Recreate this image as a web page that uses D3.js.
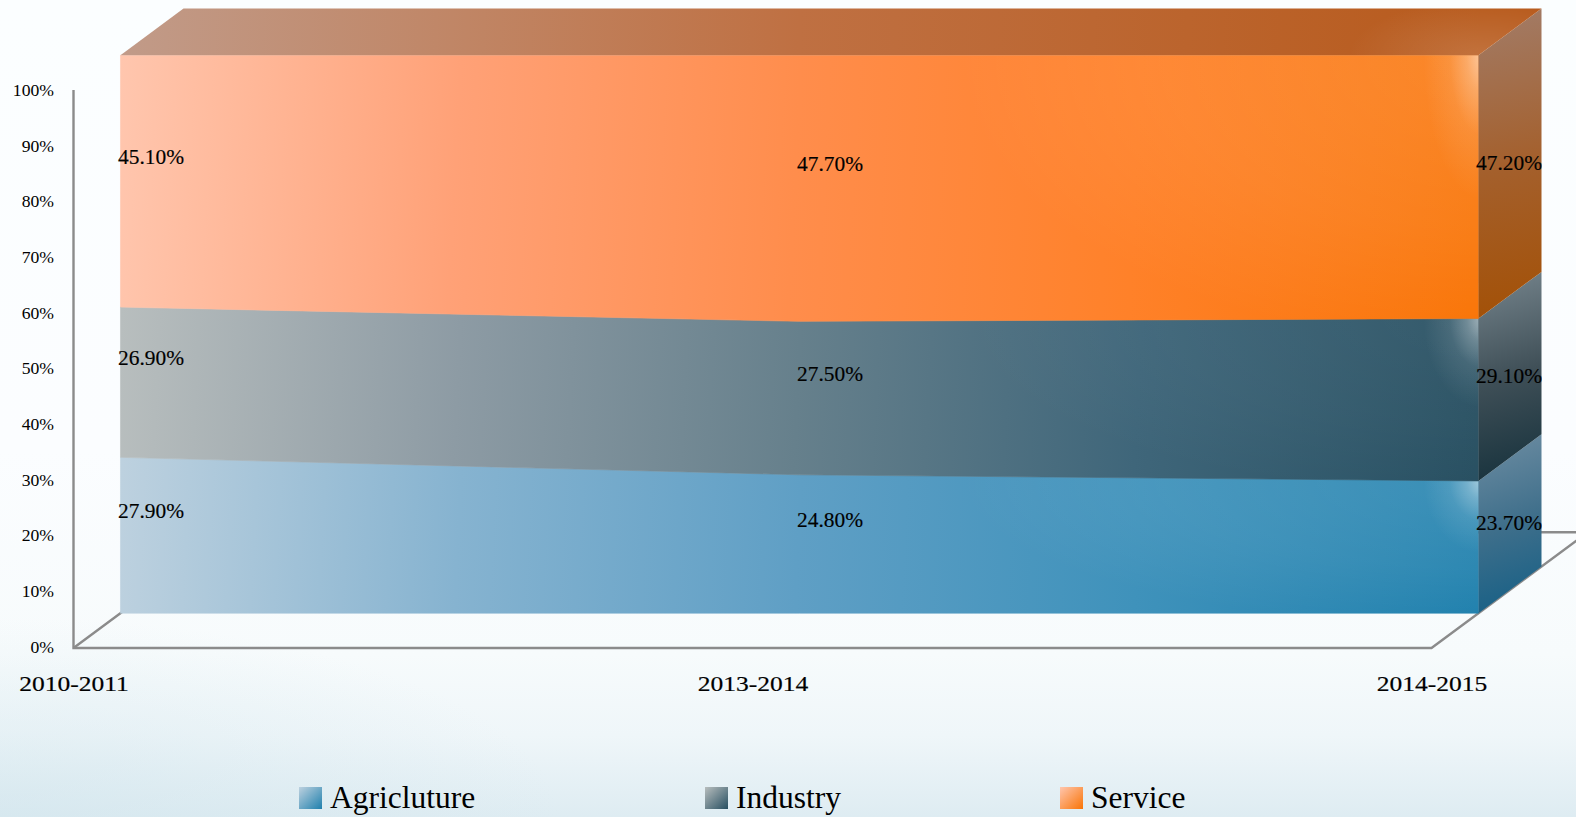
<!DOCTYPE html>
<html>
<head>
<meta charset="utf-8">
<script src="https://cdnjs.cloudflare.com/ajax/libs/d3/7.9.0/d3.min.js"></script>
<style>
html,body{margin:0;padding:0;overflow:hidden;background:#fff}
svg{display:block}
text{font-family:"Liberation Serif",serif;fill:#000}
</style>
</head>
<body>
<svg id="chart" width="1576" height="817"></svg>
<script>
// Share of GDP by sector
const categories = ["2010-2011", "2013-2014", "2014-2015"];
const seriesNames = ["Agricluture", "Industry", "Service"];
const agriculture = [27.9, 24.8, 23.7];
const industry = [26.9, 27.5, 29.1];
const service = [45.1, 47.7, 47.2];
const yTicks = [0, 10, 20, 30, 40, 50, 60, 70, 80, 90, 100];

const seriesValues = [agriculture, industry, service];

// Colour ramps for the front, side and swatch of every series
const frontRamps = [
  ["#bdd1df", "#86b3d0", "#5f9fc5", "#3f92bb", "#1f80ad"],
  ["#b8bebe", "#8d9ba4", "#66808c", "#3f667a", "#274f61"],
  ["#ffc6ae", "#ffa177", "#ff8d4c", "#ff8129", "#f97406"]
];
const sideRamps = [
  ["#6f8ea3", "#3f6f8b", "#125e85"],
  ["#77868e", "#3f4f57", "#14303b"],
  ["#a27c68", "#a4602d", "#a35005"]
];
const wideGlowStrength = [0.9, 0.45, 1];
const topRamp = ["#c19b89", "#bf7042", "#b85b1d"];

const width = 1576, height = 817;
const svg = d3.select("#chart");
const defs = svg.append("defs");

const x = d3.scalePoint().domain(categories).range([73.5, 1431.5]);
const y = d3.scaleLinear().domain([0, 1]).range([648, 90]);
const tickY = d3.scaleLinear().domain([0, 100]).range([648, 91.5]);
const depthX = d3.scaleLinear().domain([0, 1]).range([0, 110]);
const depthY = d3.scaleLinear().domain([0, 1]).range([0, -81.5]);
const seriesFront = 0.427, seriesBack = 1, seriesMid = (seriesFront + seriesBack) / 2, floorEnd = 1.42;

const px = (cat, d) => x(cat) + depthX(d);
const py = (v, d) => y(v) + depthY(d);

// Normalised stack of the three sectors
const rows = categories.map((c, i) => {
  const r = { cat: c };
  seriesNames.forEach((s, k) => { r[s] = seriesValues[k][i]; });
  return r;
});
const stacked = d3.stack().keys(seriesNames).offset(d3.stackOffsetExpand)(rows);

function ramp(id, colors, x1, y1, x2, y2) {
  const g = defs.append("linearGradient").attr("id", id)
    .attr("gradientUnits", "userSpaceOnUse")
    .attr("x1", x1).attr("y1", y1).attr("x2", x2).attr("y2", y2);
  colors.forEach((c, i) => g.append("stop")
    .attr("offset", i / (colors.length - 1)).attr("stop-color", c));
}
function glow(id, stops) {
  const g = defs.append("radialGradient").attr("id", id);
  stops.forEach(s => g.append("stop").attr("offset", s[0])
    .attr("stop-color", "#fff").attr("stop-opacity", s[1]));
}
glow("cornerGlow", [[0, 0.55], [0.25, 0.3], [0.55, 0.1], [1, 0]]);
glow("wideGlow", [[0, 0.13], [0.6, 0.07], [1, 0]]);
glow("topGlow", [[0, 0.14], [0.5, 0.07], [1, 0]]);

// Page background
const bg = defs.append("linearGradient").attr("id", "pageBg").attr("x1", 0).attr("y1", 0).attr("x2", 0).attr("y2", 1);
[[0, "#fbfeff"], [0.55, "#fbfdff"], [0.8, "#f7fbfc"], [0.9, "#eff6f9"], [1, "#deecf2"]]
  .forEach(s => bg.append("stop").attr("offset", s[0]).attr("stop-color", s[1]));
svg.append("rect").attr("width", width).attr("height", height).attr("fill", "url(#pageBg)");
const haze = defs.append("radialGradient").attr("id", "cornerHaze");
haze.append("stop").attr("offset", 0).attr("stop-color", "#cfe4ec").attr("stop-opacity", 0.5);
haze.append("stop").attr("offset", 1).attr("stop-color", "#cfe4ec").attr("stop-opacity", 0);
svg.append("ellipse").attr("cx", 0).attr("cy", 817).attr("rx", 560).attr("ry", 200).attr("fill", "url(#cornerHaze)");

// Axis frame: wall, floor edges, baseline
const last = categories[categories.length - 1], first = categories[0];
const frame = svg.append("g").attr("fill", "none").attr("stroke", "#8b8b8b").attr("stroke-width", 2.4);
const lineGen = d3.line();
frame.append("path").attr("d", lineGen([[x(first), y(1)], [x(first), y(0)], [x(last), y(0)], [px(last, floorEnd), py(0, floorEnd)]]));
frame.append("path").attr("d", lineGen([[x(first), y(0)], [px(first, floorEnd), py(0, floorEnd)], [px(last, floorEnd), py(0, floorEnd)]]));

// Y axis labels
const yAxis = d3.axisLeft(tickY).tickValues(yTicks).tickSize(0).tickFormat(d => d + "%");
const yG = svg.append("g").attr("transform", `translate(${x(first)},0)`).call(yAxis);
yG.select(".domain").remove();
yG.selectAll("text")
  .attr("x", null).attr("dy", null).attr("text-anchor", "end")
  .attr("font-family", "Liberation Serif").attr("font-size", 16.5).attr("fill", "#000")
  .attr("transform", "translate(-19.5,4) scale(1.07,1)");

// X axis labels
const xAxis = d3.axisBottom(x).tickSize(0);
const xG = svg.append("g").attr("transform", `translate(0,${y(0)})`).call(xAxis);
xG.select(".domain").remove();
xG.selectAll("text")
  .attr("y", null).attr("dy", null).attr("text-anchor", "middle")
  .attr("font-family", "Liberation Serif").attr("font-size", 22).attr("fill", "#000")
  .attr("stroke", "#000").attr("stroke-width", 0.2)
  .attr("transform", "translate(0,43) scale(1.16,1)");

// Front, side and top faces of the stacked block
const frontL = px(first, seriesFront), frontR = px(last, seriesFront);
const area = d3.area()
  .x((d) => px(d.data.cat, seriesFront))
  .y0(d => py(d[0], seriesFront))
  .y1(d => py(d[1], seriesFront));

const faces = svg.append("g");
stacked.forEach((layer, k) => {
  const lastPt = layer[layer.length - 1];
  const bandTop = py(lastPt[1], seriesFront), bandBot = py(lastPt[0], seriesFront);

  ramp("front" + k, frontRamps[k], frontL, bandTop, frontR, bandTop + 70);
  const clipId = "band" + k;
  defs.append("clipPath").attr("id", clipId).append("path").attr("d", area(layer));
  faces.append("path").attr("d", area(layer)).attr("fill", `url(#front${k})`)
    .attr("stroke", `url(#front${k})`).attr("stroke-width", 0.6);

  // Soft highlights towards the upper right corner of the band
  const bandGlow = faces.append("g").attr("clip-path", `url(#${clipId})`);
  bandGlow.append("ellipse").attr("cx", frontR).attr("cy", bandTop)
    .attr("rx", 520).attr("ry", (bandBot - bandTop) * 1.1)
    .attr("fill", "url(#wideGlow)").attr("opacity", wideGlowStrength[k]);
  bandGlow.append("ellipse").attr("cx", frontR + 3).attr("cy", bandTop)
    .attr("rx", 58).attr("ry", (bandBot - bandTop) * 0.55).attr("fill", "url(#cornerGlow)");

  // Right-hand side
  const side = [
    [px(last, seriesFront), py(lastPt[0], seriesFront)],
    [px(last, seriesBack), py(lastPt[0], seriesBack)],
    [px(last, seriesBack), py(lastPt[1], seriesBack)],
    [px(last, seriesFront), py(lastPt[1], seriesFront)]
  ];
  ramp("side" + k, sideRamps[k], frontR, py(lastPt[1], seriesBack), px(last, seriesBack), bandBot);
  faces.append("path").attr("d", lineGen(side) + "Z").attr("fill", `url(#side${k})`);
});

// Top of the block
const topFace = [
  [frontL, py(1, seriesFront)], [px(first, seriesBack), py(1, seriesBack)],
  [px(last, seriesBack), py(1, seriesBack)], [frontR, py(1, seriesFront)]
];
ramp("topFace", topRamp, frontL, 0, frontR, 60);
faces.append("path").attr("d", lineGen(topFace) + "Z").attr("fill", "url(#topFace)");
defs.append("clipPath").attr("id", "topClip").append("path").attr("d", lineGen(topFace) + "Z");
faces.append("g").attr("clip-path", "url(#topClip)").append("ellipse")
  .attr("cx", frontR).attr("cy", py(1, seriesFront)).attr("rx", 130).attr("ry", 55)
  .attr("fill", "url(#topGlow)");

// Value labels, centred in the depth of the block
const labels = svg.append("g");
stacked.forEach((layer, k) => {
  labels.selectAll(null).data(layer).join("text")
    .attr("text-anchor", "middle")
    .attr("font-size", 20)
    .attr("stroke", "#000").attr("stroke-width", 0.15)
    .attr("transform", d => `translate(${px(d.data.cat, seriesMid) - 1},${py((d[0] + d[1]) / 2, seriesMid) + 6.5}) scale(1.07,1)`)
    .text((d, i) => seriesValues[k][i].toFixed(2) + "%");
});

// Legend
const legendSwatchX = [299, 705, 1060];
const legendTextX = [330, 736, 1091];
const legend = svg.append("g");
seriesNames.forEach((name, k) => {
  const grad = defs.append("linearGradient").attr("id", "swatch" + k).attr("x1", 0).attr("y1", 0).attr("x2", 1).attr("y2", 1);
  [0, 1].forEach(o => grad.append("stop").attr("offset", o).attr("stop-color", frontRamps[k][o === 0 ? 0 : 4]));
  legend.append("rect").attr("x", legendSwatchX[k]).attr("y", 787).attr("width", 23).attr("height", 22)
    .attr("fill", `url(#swatch${k})`);
  legend.append("text")
    .attr("font-size", 32)
    .attr("transform", `translate(${legendTextX[k]},808) scale(0.985,1)`)
    .text(name);
});
</script>
</body>
</html>
